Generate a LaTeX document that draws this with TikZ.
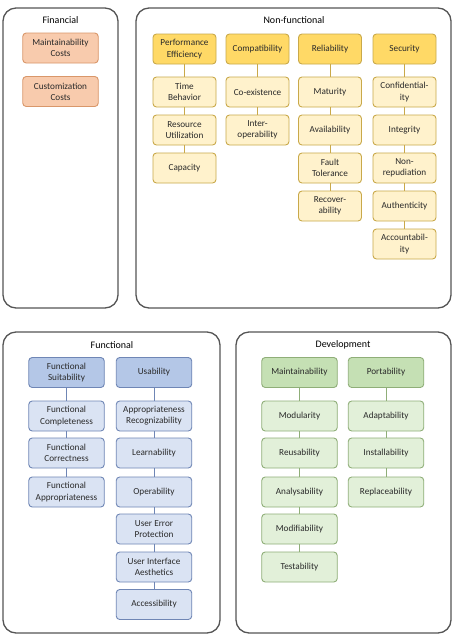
\documentclass[tikz,border=0pt]{standalone}
\usepackage{fontspec}
\setmainfont{Carlito}
\definecolor{frame}{HTML}{555555}
\definecolor{txt}{HTML}{2A2A2A}
\definecolor{finFill}{HTML}{F8CBAD}
\definecolor{finLine}{HTML}{D9976A}
\definecolor{nfHead}{HTML}{FFD966}
\definecolor{nfFill}{HTML}{FFF2CC}
\definecolor{nfLine}{HTML}{C9A94A}
\definecolor{fHead}{HTML}{B4C7E7}
\definecolor{fFill}{HTML}{DAE3F3}
\definecolor{fLine}{HTML}{6F86B5}
\definecolor{dHead}{HTML}{C5E0B4}
\definecolor{dFill}{HTML}{E2F0D9}
\definecolor{dLine}{HTML}{8FAE78}
\begin{document}
\begin{tikzpicture}[x=1pt,y=-1pt,
  group/.style={draw=frame, line width=1.3pt, rounded corners=13pt},
  grouptitle/.style={font=\fontsize{10}{12}\selectfont, text=black, inner sep=0pt},
  item/.style={rounded corners=3.5pt, line width=0.9pt, minimum width=63pt,
    minimum height=30pt, align=center, inner sep=1pt,
    font=\fontsize{9.2}{11.2}\selectfont, text=txt},
  wide/.style={minimum width=75.5pt},
  fin/.style={item, wide, draw=finLine, fill=finFill},
  nfh/.style={item, draw=nfLine, fill=nfHead},
  nfc/.style={item, draw=nfLine, fill=nfFill},
  fh/.style={item, wide, draw=fLine, fill=fHead},
  fc/.style={item, wide, draw=fLine, fill=fFill},
  dh/.style={item, wide, draw=dLine, fill=dHead},
  dc/.style={item, wide, draw=dLine, fill=dFill},
  nflink/.style={draw=nfLine, line width=1pt},
  flink/.style={draw=fLine, line width=1pt},
  dlink/.style={draw=dLine, line width=1pt}]

% canvas
\fill[white] (0,0) rectangle (457,641);
\useasboundingbox (0,0) rectangle (457,641);

% group frames
\draw[group] (3,8) rectangle (118,308);
\draw[group] (136,8) rectangle (451,308);
\draw[group] (3,332) rectangle (220,633);
\draw[group] (236,332) rectangle (451,633);

\node[grouptitle] (tFin) at (60.5,20) {Financial};
\node[grouptitle] (tNf) at (294,20) {Non-functional};
\node[grouptitle] (tF) at (112,345) {Functional};
\node[grouptitle] (tD) at (343,345) {Development};

% Financial
\node[fin] (mc) at (60.5,48) {Maintainability\\Costs};
\node[fin] (cc) at (60.5,91.5) {Customization\\Costs};

% Non-functional: performance efficiency
\node[nfh] (pe) at (184.5,49) {Performance\\Efficiency};
\node[nfc] (tb) at (184.5,92) {Time\\Behavior};
\node[nfc] (ru) at (184.5,130) {Resource\\Utilization};
\node[nfc] (ca) at (184.5,168) {Capacity};
\draw[nflink] (pe.south) -- (tb.north);
\draw[nflink] (tb.south) -- (ru.north);
\draw[nflink] (ru.south) -- (ca.north);

% Non-functional: compatibility
\node[nfh] (co) at (257.5,49) {Compatibility};
\node[nfc] (ce) at (257.5,92) {Co-existence};
\node[nfc] (io) at (257.5,130) {Inter-\\operability};
\draw[nflink] (co.south) -- (ce.north);
\draw[nflink] (ce.south) -- (io.north);

% Non-functional: reliability
\node[nfh] (re) at (330,49) {Reliability};
\node[nfc] (ma) at (330,92) {Maturity};
\node[nfc] (av) at (330,130) {Availability};
\node[nfc] (ft) at (330,168) {Fault\\Tolerance};
\node[nfc] (rc) at (330,206) {Recover-\\ability};
\draw[nflink] (re.south) -- (ma.north);
\draw[nflink] (ma.south) -- (av.north);
\draw[nflink] (av.south) -- (ft.north);
\draw[nflink] (ft.south) -- (rc.north);

% Non-functional: security
\node[nfh] (se) at (404.5,49) {Security};
\node[nfc] (cf) at (404.5,92) {Confidential-\\ity};
\node[nfc] (ig) at (404.5,130) {Integrity};
\node[nfc] (nr) at (404.5,168) {Non-\\repudiation};
\node[nfc] (au) at (404.5,206) {Authenticity};
\node[nfc] (ac) at (404.5,244) {Accountabil-\\ity};
\draw[nflink] (se.south) -- (cf.north);
\draw[nflink] (cf.south) -- (ig.north);
\draw[nflink] (ig.south) -- (nr.north);
\draw[nflink] (nr.south) -- (au.north);
\draw[nflink] (au.south) -- (ac.north);

% Functional: suitability
\node[fh] (fs) at (66.5,372.5) {Functional\\Suitability};
\node[fc] (fcm) at (66.5,416) {Functional\\Completeness};
\node[fc] (fcr) at (66.5,453) {Functional\\Correctness};
\node[fc] (fap) at (66.5,492) {Functional\\Appropriateness};
\draw[flink] (fs.south) -- (fcm.north);
\draw[flink] (fcm.south) -- (fcr.north);
\draw[flink] (fcr.south) -- (fap.north);

% Functional: usability
\node[fh] (us) at (154,372.5) {Usability};
\node[fc] (ar) at (154,416) {Appropriateness\\Recognizability};
\node[fc] (le) at (154,453) {Learnability};
\node[fc] (op) at (154,492) {Operability};
\node[fc] (uep) at (154,529) {User Error\\Protection};
\node[fc] (uia) at (154,567) {User Interface\\Aesthetics};
\node[fc] (acc) at (154,604.5) {Accessibility};
\draw[flink] (us.south) -- (ar.north);
\draw[flink] (ar.south) -- (le.north);
\draw[flink] (le.south) -- (op.north);
\draw[flink] (op.south) -- (uep.north);
\draw[flink] (uep.south) -- (uia.north);
\draw[flink] (uia.south) -- (acc.north);

% Development: maintainability
\node[dh] (mn) at (299.5,372.5) {Maintainability};
\node[dc] (mo) at (299.5,416) {Modularity};
\node[dc] (rs) at (299.5,453) {Reusability};
\node[dc] (an) at (299.5,492) {Analysability};
\node[dc] (md) at (299.5,529) {Modifiability};
\node[dc] (te) at (299.5,567) {Testability};
\draw[dlink] (mn.south) -- (mo.north);
\draw[dlink] (mo.south) -- (rs.north);
\draw[dlink] (rs.south) -- (an.north);
\draw[dlink] (an.south) -- (md.north);
\draw[dlink] (md.south) -- (te.north);

% Development: portability
\node[dh] (po) at (386,372.5) {Portability};
\node[dc] (ad) at (386,416) {Adaptability};
\node[dc] (in) at (386,453) {Installability};
\node[dc] (rp) at (386,492) {Replaceability};
\draw[dlink] (po.south) -- (ad.north);
\draw[dlink] (ad.south) -- (in.north);
\draw[dlink] (in.south) -- (rp.north);
\end{tikzpicture}
\end{document}
